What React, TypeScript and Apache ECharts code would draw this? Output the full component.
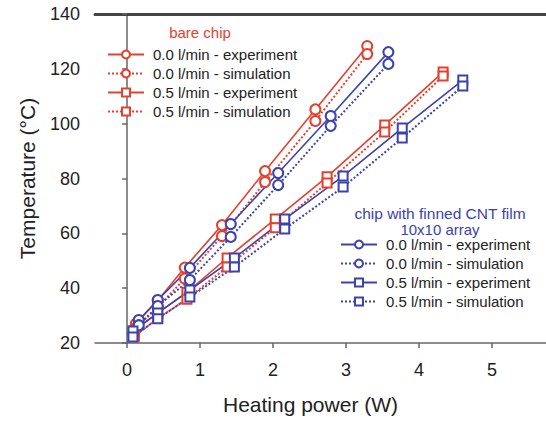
import React, { useEffect, useRef } from "react";
import * as echarts from "echarts";

// Heating power (W) and chip temperature (°C) for each configuration
const bareDryPower = [0.12, 0.42, 0.79, 1.3, 1.89, 2.58, 3.29];
const bareDryExperiment = [27, 35.5, 47.5, 63, 82.7, 105.2, 128.3];
const bareDrySimulation = [25.5, 33, 43.5, 59, 78.7, 101, 125.4];

const bareFlowPower = [0.1, 0.42, 0.82, 1.37, 2.03, 2.74, 3.53, 4.33];
const bareFlowExperiment = [24.5, 31, 38.5, 51, 65.2, 80.6, 99.5, 118.8];
const bareFlowSimulation = [22.5, 29, 36, 47.7, 62, 78.4, 97, 117.4];

const cntDryPower = [0.16, 0.42, 0.86, 1.42, 2.07, 2.79, 3.58];
const cntDryExperiment = [28.4, 35.7, 47.4, 63.4, 82.0, 102.8, 126.1];
const cntDrySimulation = [26.5, 33.5, 43, 58.7, 77.6, 99.2, 121.8];

const cntFlowPower = [0.08, 0.42, 0.86, 1.47, 2.16, 2.96, 3.77, 4.6];
const cntFlowExperiment = [24.4, 30.9, 39.3, 51, 65.2, 80.9, 98.4, 115.9];
const cntFlowSimulation = [22.2, 28.8, 36.8, 47.7, 61.6, 76.9, 94.8, 113.7];

const xTicks = [0, 1, 2, 3, 4, 5];
const legendLabels = [
  "0.0 l/min - experiment",
  "0.0 l/min - simulation",
  "0.5 l/min - experiment",
  "0.5 l/min - simulation",
];

const RED = "#e5402f";
const BLUE = "#3b43ac";
const FONT = "'Liberation Sans', Arial, Helvetica, sans-serif";

const pairs = (xs: number[], ys: number[]) => xs.map((x, i) => [x, ys[i]]);

function makeSeries(
  group: string,
  label: string,
  xs: number[],
  ys: number[],
  color: string,
  symbol: string,
  dotted: boolean
) {
  return {
    name: group + "|" + label,
    type: "line",
    data: pairs(xs, ys),
    symbol,
    symbolSize: symbol === "emptyCircle" ? 10 : 9,
    showAllSymbol: true,
    lineStyle: { color, width: dotted ? 2 : 1.6, type: dotted ? "dotted" : "solid" },
    itemStyle: { color, borderColor: color, borderWidth: 1.8 },
    emphasis: { disabled: true },
  };
}

export default function App() {
  const ref = useRef<HTMLDivElement>(null);

  useEffect(() => {
    if (!ref.current) return;
    const chart = echarts.init(ref.current, null, { renderer: "svg" });

    const series = [
      makeSeries("bare", legendLabels[0], bareDryPower, bareDryExperiment, RED, "emptyCircle", false),
      makeSeries("bare", legendLabels[1], bareDryPower, bareDrySimulation, RED, "emptyCircle", true),
      makeSeries("bare", legendLabels[2], bareFlowPower, bareFlowExperiment, RED, "emptyRect", false),
      makeSeries("bare", legendLabels[3], bareFlowPower, bareFlowSimulation, RED, "emptyRect", true),
      makeSeries("cnt", legendLabels[0], cntDryPower, cntDryExperiment, BLUE, "emptyCircle", false),
      makeSeries("cnt", legendLabels[1], cntDryPower, cntDrySimulation, BLUE, "emptyCircle", true),
      makeSeries("cnt", legendLabels[2], cntFlowPower, cntFlowExperiment, BLUE, "emptyRect", false),
      makeSeries("cnt", legendLabels[3], cntFlowPower, cntFlowSimulation, BLUE, "emptyRect", true),
    ];

    const legendCommon = {
      orient: "vertical",
      padding: 0,
      itemWidth: 36,
      itemHeight: 10,
      itemGap: 0,
      selectedMode: false,
      formatter: (name: string) => name.split("|")[1],
      textStyle: {
        fontFamily: FONT,
        fontSize: 15,
        color: "#222",
        lineHeight: 19,
        padding: [0, 0, 0, 4],
      },
    };

    chart.setOption({
      animation: false,
      backgroundColor: "#fff",
      grid: { left: 95, top: 14, right: 0, bottom: 78, containLabel: false },
      xAxis: [
        {
          type: "value",
          min: -0.44,
          max: 5.74,
          name: "Heating power (W)",
          nameLocation: "middle",
          nameGap: 51,
          nameTextStyle: { fontFamily: FONT, fontSize: 21, color: "#222", padding: [0, 20, 0, 0] },
          axisLine: { lineStyle: { color: "#666", width: 1.5 } },
          axisTick: { show: true, length: 5, customValues: xTicks, lineStyle: { color: "#666", width: 1.5 } },
          axisLabel: { customValues: xTicks, margin: 18, fontFamily: FONT, fontSize: 18, color: "#222" },
          splitLine: { show: false },
        },
        {
          type: "value",
          position: "top",
          min: -0.44,
          max: 5.74,
          axisLine: { show: true, lineStyle: { color: "#444", width: 3 } },
          axisTick: { show: false },
          axisLabel: { show: false },
          splitLine: { show: false },
        },
      ],
      yAxis: {
        type: "value",
        min: 20,
        max: 140,
        interval: 20,
        name: "Temperature (°C)",
        nameLocation: "middle",
        nameGap: 57,
        nameTextStyle: { fontFamily: FONT, fontSize: 21, color: "#222" },
        axisLine: { show: true, lineStyle: { color: "#666", width: 1.5 } },
        axisTick: { show: true, length: 5, lineStyle: { color: "#666", width: 1.5 } },
        axisLabel: { margin: 15, fontFamily: FONT, fontSize: 18, color: "#222" },
        splitLine: { show: false },
      },
      legend: [
        {
          ...legendCommon,
          left: 107,
          top: 45,
          data: legendLabels.map((l) => "bare|" + l),
        },
        {
          ...legendCommon,
          left: 340,
          top: 235,
          data: legendLabels.map((l) => "cnt|" + l),
        },
      ],
      graphic: [
        {
          type: "text",
          x: 200,
          y: 32,
          style: { text: "bare chip", fill: RED, font: `15px ${FONT}`, align: "center", verticalAlign: "middle" },
        },
        {
          type: "text",
          x: 440,
          y: 213,
          style: {
            text: "chip with finned CNT film",
            fill: BLUE,
            font: `15.5px ${FONT}`,
            align: "center",
            verticalAlign: "middle",
          },
        },
        {
          type: "text",
          x: 440,
          y: 229,
          style: { text: "10x10 array", fill: BLUE, font: `15px ${FONT}`, align: "center", verticalAlign: "middle" },
        },
      ],
      series,
    });

    return () => chart.dispose();
  }, []);

  return (
    <div
      ref={ref}
      style={{ position: "fixed", left: 0, top: 0, width: 546, height: 421 }}
    />
  );
}
